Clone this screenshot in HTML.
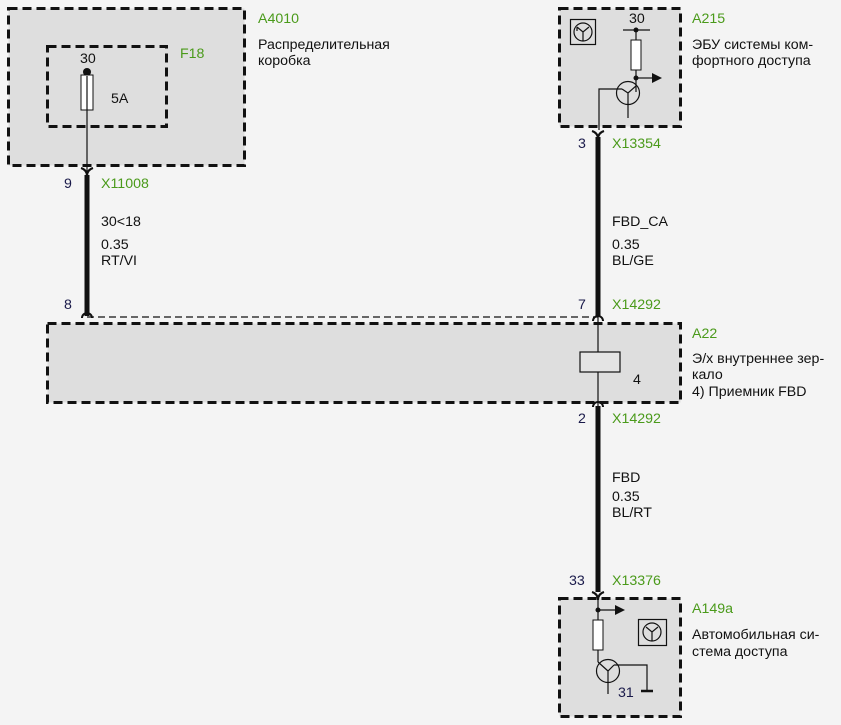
<!DOCTYPE html>
<html><head><meta charset="utf-8"><style>
html,body{margin:0;padding:0;background:#f4f4f4;}
svg{display:block;font-family:"Liberation Sans",sans-serif;font-size:14.2px;}
.g{fill:#4a9a1a}
.t{fill:#111}
.n{fill:#1a1a4a}
</style></head><body>
<svg width="841" height="725" viewBox="0 0 841 725" xmlns="http://www.w3.org/2000/svg">
<g fill="#dedede" stroke="#111" stroke-width="3" stroke-dasharray="9,5">
<rect x="8.5" y="8.5" width="236" height="157"/>
<rect x="559.5" y="8.5" width="121" height="118"/>
<rect x="47.5" y="323.5" width="633" height="79"/>
<rect x="559.5" y="598.5" width="121" height="118"/>
</g>
<rect x="47.5" y="46.5" width="119" height="80" fill="none" stroke="#111" stroke-width="3" stroke-dasharray="9,5"/>
<line x1="87" y1="317" x2="598" y2="317" stroke="#111" stroke-width="1.2" stroke-dasharray="7,4"/>

<circle cx="87" cy="72" r="4" fill="#111"/>
<rect x="81" y="75" width="12" height="35" fill="#fff" stroke="#111" stroke-width="1"/>
<line x1="87" y1="76" x2="87" y2="172" stroke="#111" stroke-width="1.2"/>
<path d="M81,168 Q87,170 87,176 Q87,170 93,168" fill="none" stroke="#111" stroke-width="2"/>
<line x1="87" y1="175" x2="87" y2="312" stroke="#111" stroke-width="5"/>
<path d="M82,318 A5,5 0 0 1 92,318" fill="none" stroke="#111" stroke-width="2"/>
<line x1="87" y1="312" x2="87" y2="316" stroke="#111" stroke-width="5"/>

<rect x="570.5" y="19.5" width="25" height="25" fill="none" stroke="#111" stroke-width="1.2"/>
<circle cx="583" cy="32" r="9" fill="none" stroke="#111" stroke-width="1.2"/>
<path d="M577,27 L583,32 L589,27 M583,32 L583,41 M577,27 l0,4" fill="none" stroke="#111" stroke-width="1.2"/>
<line x1="623" y1="30" x2="650" y2="30" stroke="#111" stroke-width="1.2"/>
<circle cx="636" cy="30" r="2.5" fill="#111"/>
<line x1="636" y1="30" x2="636" y2="40" stroke="#111" stroke-width="1.2"/>
<rect x="631" y="40" width="10" height="30" fill="#fff" stroke="#111" stroke-width="1"/>
<line x1="636" y1="70" x2="636" y2="92" stroke="#111" stroke-width="1.2"/>
<circle cx="636" cy="78" r="2.5" fill="#111"/>
<line x1="636" y1="78" x2="652" y2="78" stroke="#111" stroke-width="1.2"/>
<path d="M652,73 L662,78 L652,83 Z" fill="#111"/>
<circle cx="628" cy="93" r="11.5" fill="none" stroke="#111" stroke-width="1.2"/>
<path d="M599,130 L599,89 L622,89 M622,89 L628,93 L636,86 M628,93 L628,118" fill="none" stroke="#111" stroke-width="1.2"/>
<path d="M592,131 Q598,133 598,139 Q598,133 604,131" fill="none" stroke="#111" stroke-width="2"/>
<line x1="598" y1="137" x2="598" y2="316" stroke="#111" stroke-width="5"/>

<line x1="598" y1="316" x2="598" y2="408" stroke="#111" stroke-width="1.2"/>
<path d="M593,321 A5,5 0 0 1 603,321" fill="none" stroke="#111" stroke-width="2"/>
<path d="M593,407 A5,5 0 0 1 603,407" fill="none" stroke="#111" stroke-width="2"/>
<rect x="580" y="352" width="40" height="20" fill="#e4e4e4" stroke="#111" stroke-width="1.2"/>
<line x1="598" y1="406" x2="598" y2="592" stroke="#111" stroke-width="5"/>
<path d="M592,592 Q598,594 598,600 Q598,594 604,592" fill="none" stroke="#111" stroke-width="2"/>

<line x1="598" y1="596" x2="598" y2="620" stroke="#111" stroke-width="1.2"/>
<circle cx="598" cy="610" r="2.5" fill="#111"/>
<line x1="598" y1="610" x2="615" y2="610" stroke="#111" stroke-width="1.2"/>
<path d="M615,605 L625,610 L615,615 Z" fill="#111"/>
<rect x="593" y="620" width="10" height="30" fill="#fff" stroke="#111" stroke-width="1"/>
<line x1="598" y1="650" x2="598" y2="662" stroke="#111" stroke-width="1.2"/>
<circle cx="608" cy="671" r="11.5" fill="none" stroke="#111" stroke-width="1.2"/>
<path d="M598,662 L608,671 L614,665 M614,665 L647,665 L647,690 M608,671 L608,694" fill="none" stroke="#111" stroke-width="1.2"/>
<line x1="641" y1="691" x2="653" y2="691" stroke="#111" stroke-width="2.5"/>
<rect x="638.5" y="619.5" width="28" height="26" fill="none" stroke="#111" stroke-width="1.2"/>
<circle cx="652" cy="632" r="9" fill="none" stroke="#111" stroke-width="1.2"/>
<path d="M646,627 L652,632 L658,627 M652,632 L652,641" fill="none" stroke="#111" stroke-width="1.2"/>

<text x="258" y="23" class="g">A4010</text>
<text x="258" y="49" class="t">Распределительная</text>
<text x="258" y="65" class="t">коробка</text>
<text x="180" y="58" class="g">F18</text>
<text x="80" y="63" class="t">30</text>
<text x="111" y="103" class="t">5A</text>
<text x="64" y="188" class="n">9</text>
<text x="101" y="188" class="g">X11008</text>
<text x="101" y="226" class="t">30&lt;18</text>
<text x="101" y="249" class="t">0.35</text>
<text x="101" y="265" class="t">RT/VI</text>
<text x="64" y="309" class="n">8</text>

<text x="629" y="23" class="t">30</text>
<text x="692" y="23" class="g">A215</text>
<text x="692" y="49" class="t">ЭБУ системы ком-</text>
<text x="692" y="65" class="t">фортного доступа</text>
<text x="578" y="148" class="n">3</text>
<text x="612" y="148" class="g">X13354</text>
<text x="612" y="226" class="t">FBD_CA</text>
<text x="612" y="249" class="t">0.35</text>
<text x="612" y="265" class="t">BL/GE</text>
<text x="578" y="309" class="n">7</text>
<text x="612" y="309" class="g">X14292</text>

<text x="692" y="338" class="g">A22</text>
<text x="692" y="363" class="t">Э/х внутреннее зер-</text>
<text x="692" y="379" class="t">кало</text>
<text x="692" y="396" class="t">4) Приемник FBD</text>
<text x="633" y="384" class="t">4</text>
<text x="578" y="423" class="n">2</text>
<text x="612" y="423" class="g">X14292</text>
<text x="612" y="482" class="t">FBD</text>
<text x="612" y="501" class="t">0.35</text>
<text x="612" y="517" class="t">BL/RT</text>
<text x="569" y="585" class="n">33</text>
<text x="612" y="585" class="g">X13376</text>
<text x="692" y="613" class="g">A149a</text>
<text x="692" y="639" class="t">Автомобильная си-</text>
<text x="692" y="656" class="t">стема доступа</text>
<text x="618" y="697" class="n">31</text>
</svg>
</body></html>
